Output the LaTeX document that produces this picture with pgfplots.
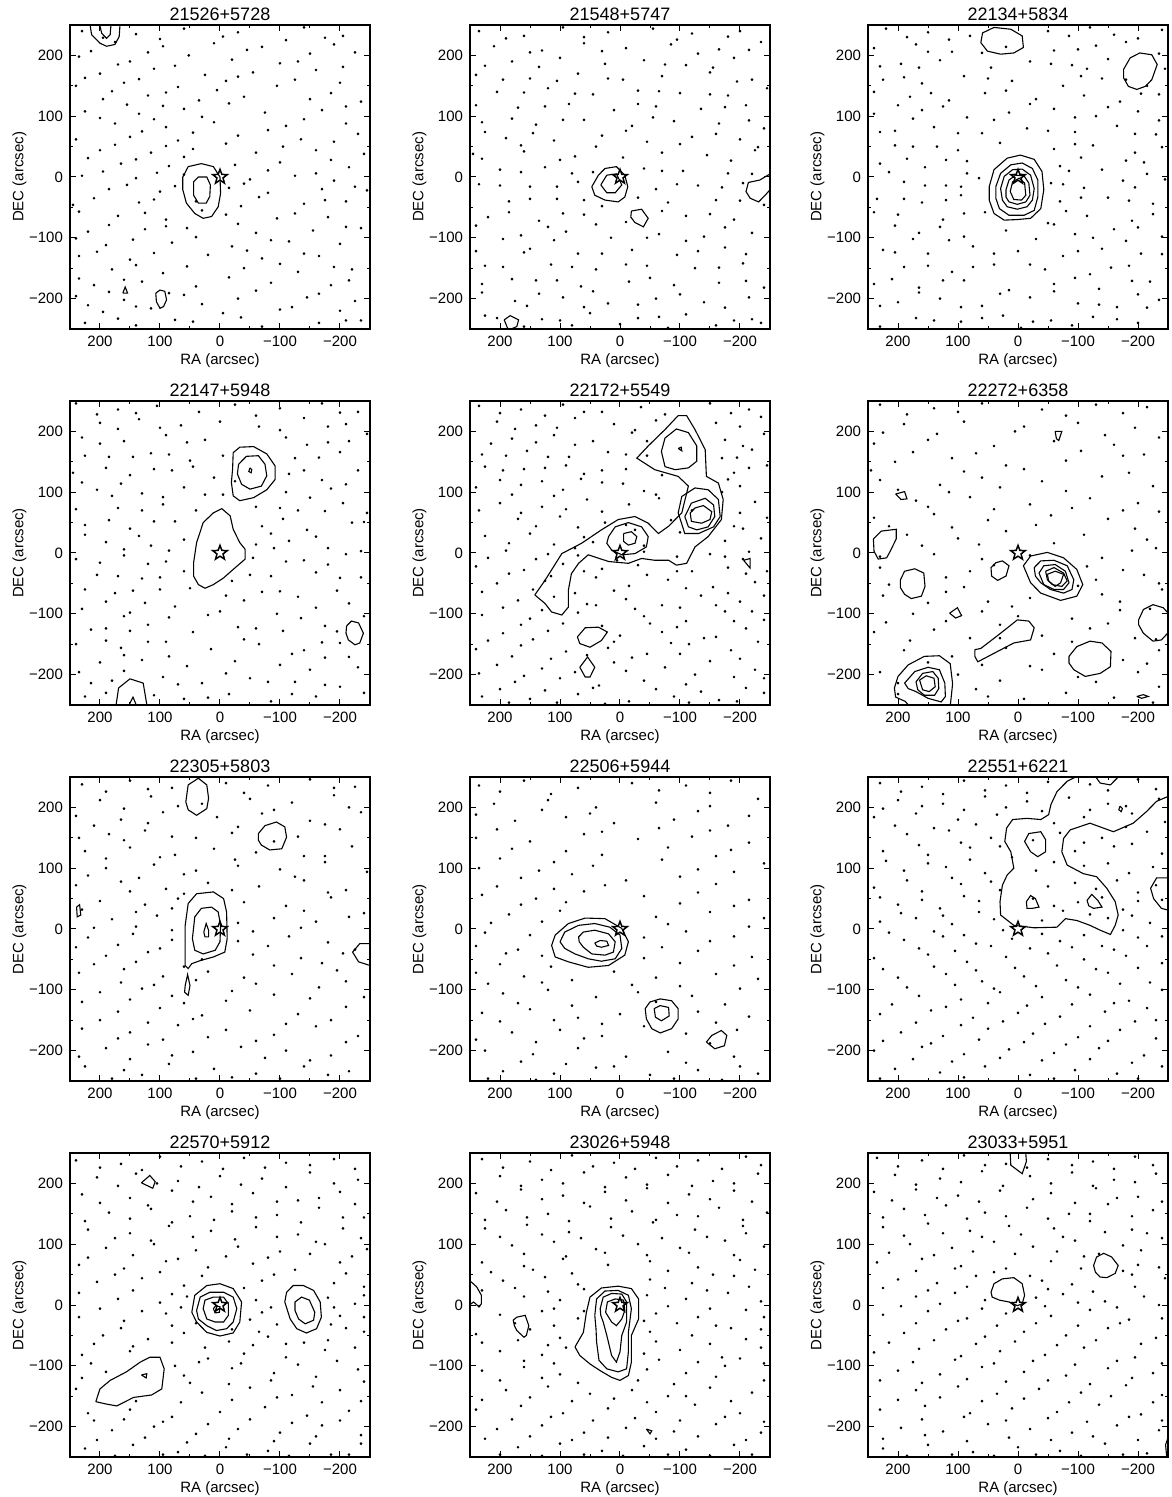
\documentclass[border=0pt]{standalone}
\usepackage{fontspec}
\setmainfont{Liberation Sans}
\usepackage{pgfplots}
\pgfplotsset{compat=1.18}

% open five-pointed star for the source position
\pgfdeclareplotmark{ostar}{%
  \pgfpathmoveto{\pgfpointpolar{90}{\pgfplotmarksize}}%
  \pgfpathlineto{\pgfpointpolar{126}{0.42\pgfplotmarksize}}%
  \pgfpathlineto{\pgfpointpolar{162}{\pgfplotmarksize}}%
  \pgfpathlineto{\pgfpointpolar{198}{0.42\pgfplotmarksize}}%
  \pgfpathlineto{\pgfpointpolar{234}{\pgfplotmarksize}}%
  \pgfpathlineto{\pgfpointpolar{270}{0.42\pgfplotmarksize}}%
  \pgfpathlineto{\pgfpointpolar{306}{\pgfplotmarksize}}%
  \pgfpathlineto{\pgfpointpolar{342}{0.42\pgfplotmarksize}}%
  \pgfpathlineto{\pgfpointpolar{18}{\pgfplotmarksize}}%
  \pgfpathlineto{\pgfpointpolar{54}{0.42\pgfplotmarksize}}%
  \pgfpathclose\pgfusepathqstroke}

\pgfplotsset{
  every axis title shift=0pt,
  field/.style={
    scale only axis, width=150pt, height=152pt, anchor=south west,
    xmin=-250, xmax=250, ymin=-250, ymax=250, x dir=reverse,
    xtick={-200,-100,0,100,200}, xticklabels={−200,−100,0,100,200},
    ytick={-200,-100,0,100,200}, yticklabels={−200,−100,0,100,200},
    minor tick num=1, tick align=inside,
    major tick length=3pt, minor tick length=1.5pt,
    tick style={line width=0.5pt, black},
    axis line style={line width=0.6pt},
    tick label style={font=\fontsize{7.5}{9}\selectfont},
    label style={font=\fontsize{7.5}{9}\selectfont},
    xlabel style={at={(axis description cs:0.5,-0.104)}, anchor=center},
    ylabel style={at={(axis description cs:-0.168,0.5)}, anchor=center},
    title style={at={(0.5,1.035)}, anchor=center, font=\fontsize{9}{10}\selectfont},
    xlabel={RA (arcsec)}, ylabel={DEC (arcsec)},
  },
  dots/.style={only marks, mark=*, mark size=0.45pt, black},
  cont/.style={black, line width=0.55pt, mark=none},
  src/.style={only marks, mark=ostar, mark size=3.8pt, line width=0.75pt, black},
}

\begin{document}
\begin{tikzpicture}
\useasboundingbox (0,0) rectangle (585.5pt,748.5pt);

% ---------------- row 1 ----------------
\begin{axis}[field, at={(35pt,584pt)}, title={21526+5728}]
\addplot[dots] coordinates {(230,240)(140,235)(60,244)(-30,238)(-140,246)(-205,232)
(175,222)(95,215)(10,220)(-70,214)(-110,225)(-190,218)
(235,198)(150,190)(52,200)(-20,193)(-130,190)(-225,205)
(200,170)(110,178)(25,168)(-55,172)(-160,176)
(240,150)(160,155)(70,148)(-10,158)(-95,150)(-200,155)
(195,128)(120,134)(35,126)(-40,132)(-150,128)(-235,124)
(225,108)(135,104)(60,112)(-75,106)(-170,110)
(175,88)(90,82)(10,90)(-110,84)(-210,88)
(240,62)(150,66)(70,60)(-30,68)(-135,62)(-190,58)
(200,44)(115,40)(45,46)(-60,40)(-160,44)(-240,38)
(165,22)(85,18)(-25,20)(-100,24)(-215,16)
(230,2)(140,-2)(60,4)(-50,-4)(-125,2)(-190,-6)
(185,-20)(100,-24)(-15,-18)(-80,-26)(-170,-20)(-245,-22)
(245,-46)(135,-42)(40,-40)(-35,-48)(-140,-44)(-210,-40)
(170,-64)(90,-70)(-10,-62)(-95,-68)(-180,-66)
(220,-90)(125,-86)(55,-84)(-60,-92)(-155,-88)(-235,-84)
(190,-112)(80,-108)(-20,-114)(-115,-106)(-200,-110)
(235,-130)(150,-136)(20,-128)(-70,-134)(-165,-130)
(180,-152)(95,-158)(-40,-150)(-130,-156)(-220,-152)
(210,-178)(130,-172)(40,-180)(-85,-174)(-185,-178)
(240,-196)(160,-202)(60,-194)(-30,-200)(-145,-198)(-225,-204)
(195,-222)(115,-216)(-5,-224)(-100,-218)(-200,-220)
(225,-240)(140,-244)(45,-238)(-70,-246)(-165,-240)(-235,-236)};
\addplot[dots] coordinates {(195,229)(100,227)(-5,231)(-175,229)
(215,207)(120,205)(-45,209)(-150,203)(170,185)(75,183)(-100,187)(-205,181)
(225,163)(135,161)(-30,165)(-125,160)(180,141)(90,139)(5,143)(-185,138)
(155,119)(95,117)(-15,121)(-210,116)(200,97)(110,95)(30,99)(-140,95)
(130,75)(45,73)(-80,77)(-230,71)(175,53)(90,51)(-10,55)(-105,50)
(220,31)(140,29)(60,33)(-185,28)(195,9)(105,7)(-80,11)(-160,6)
(155,-13)(75,-15)(-40,-11)(-225,-16)(210,-35)(110,-37)(-65,-33)(-175,-38)
(235,-57)(125,-59)(30,-55)(-125,-60)(185,-79)(90,-81)(-30,-77)(-210,-82)
(240,-101)(145,-103)(40,-99)(-85,-104)(205,-123)(110,-125)(-45,-121)(-140,-126)
(140,-145)(55,-147)(-100,-143)(-190,-148)(235,-167)(160,-169)(-15,-165)(-215,-170)
(185,-189)(85,-191)(-60,-187)(-165,-192)(220,-211)(140,-213)(30,-209)(-120,-214)
(170,-233)(75,-235)(-35,-231)(-210,-236)};
\addplot[cont] coordinates {(62,0)(53,17)(31,22)(11,17)(0,0)(-1,-27)(3,-49)(14,-65)(28,-68)(42,-60)(56,-43)(62,-21)(62,0)};
\addplot[cont] coordinates {(44,-8)(36,0)(22,0)(16,-13)(17,-32)(23,-43)(36,-43)(44,-30)(44,-8)};
\addplot[cont] coordinates {(218,260)(214,234)(200,220)(189,215)(175,218)(168,231)(166,260)};
\addplot[cont] coordinates {(203,260)(197,236)(189,228)(183,234)(181,260)};
\addplot[cont] coordinates {(162,-191)(158,-181)(154,-191)(162,-191)};
\addplot[cont] coordinates {(107,-191)(100,-186)(92,-188)(89,-202)(94,-213)(100,-216)(106,-205)(107,-191)};
\addplot[src] coordinates {(0,0)};
\end{axis}

\begin{axis}[field, at={(235pt,584pt)}, title={21548+5747}]
\addplot[dots] coordinates {(235,240)(160,232)(95,246)(20,238)(-55,244)(-120,236)(-200,240)
(210,215)(130,208)(60,220)(-10,212)(-85,218)(-165,210)(-235,222)
(180,190)(100,196)(25,186)(-40,192)(-110,184)(-190,196)
(240,168)(150,162)(70,170)(-5,160)(-70,166)(-150,172)(-220,160)
(205,140)(120,146)(45,136)(-30,142)(-100,138)(-180,134)(-245,146)
(170,114)(85,120)(10,110)(-60,116)(-135,112)(-210,118)
(230,90)(140,86)(60,94)(-20,84)(-90,92)(-165,88)(-240,80)
(190,64)(110,60)(30,68)(-45,58)(-120,66)(-200,62)
(245,38)(160,42)(75,34)(-70,40)(-145,36)(-225,44)
(200,12)(125,16)(45,8)(-40,14)(-105,10)(-180,6)
(235,-12)(150,-16)(70,-8)(-60,-20)(-130,-14)(-205,-10)
(185,-40)(105,-36)(30,-48)(-80,-42)(-160,-38)(-240,-46)
(220,-66)(135,-72)(60,-62)(-10,-74)(-110,-64)(-190,-70)
(165,-96)(90,-90)(15,-100)(-65,-94)(-140,-98)(-220,-92)
(240,-122)(150,-118)(70,-126)(-20,-120)(-95,-128)(-175,-116)
(195,-148)(115,-144)(40,-152)(-45,-146)(-125,-150)(-205,-142)
(230,-176)(140,-170)(65,-180)(-15,-172)(-90,-178)(-165,-174)(-240,-182)
(175,-204)(95,-198)(20,-208)(-60,-200)(-140,-206)(-215,-198)
(225,-228)(130,-234)(50,-224)(-30,-232)(-110,-226)(-190,-236)
(160,-246)(80,-244)(0,-242)(-80,-248)(-160,-244)(-235,-240)};
\addplot[dots] coordinates {(190,228)(60,230)(-95,226)(-180,231)
(150,205)(30,207)(-130,203)(-215,209)(225,183)(135,181)(-75,185)(-155,180)
(195,160)(105,158)(20,162)(-195,157)(160,139)(75,137)(-65,141)(-150,136)
(240,118)(125,116)(-30,120)(-175,115)(180,96)(95,94)(-55,98)(-215,93)
(225,74)(145,72)(-10,76)(-160,71)(165,52)(40,50)(-100,54)(-230,49)
(230,30)(100,28)(-5,32)(-185,27)(165,8)(80,6)(-70,10)(-220,5)
(200,-14)(105,-16)(-95,-12)(-170,-17)(150,-36)(60,-38)(-30,-34)(-200,-39)
(185,-58)(95,-60)(-70,-56)(-150,-61)(240,-80)(120,-82)(40,-78)(-175,-83)
(195,-102)(110,-104)(-45,-100)(-110,-105)(160,-124)(30,-126)(-130,-122)(-210,-127)
(225,-146)(80,-148)(-10,-144)(-165,-149)(180,-168)(105,-170)(-50,-166)(-210,-171)
(230,-190)(135,-192)(45,-188)(-100,-193)(155,-212)(60,-214)(-30,-210)(-175,-215)
(205,-232)(100,-236)(-65,-230)(-220,-234)};
\addplot[cont] coordinates {(47,-16)(36,3)(25,14)(6,17)(-8,3)(-13,-16)(-8,-33)(3,-41)(25,-38)(42,-30)(47,-16)};
\addplot[cont] coordinates {(32,-13)(22,3)(6,5)(-3,-13)(8,-26)(22,-26)(32,-13)};
\addplot[cont] coordinates {(-19,-56)(-36,-53)(-47,-68)(-39,-82)(-25,-75)(-18,-66)(-19,-56)};
\addplot[cont] coordinates {(-262,12)(-250,5)(-233,-5)(-214,-9)(-210,-24)(-217,-35)(-231,-41)(-242,-30)(-250,-21)(-262,-14)};
\addplot[cont] coordinates {(193,-235)(183,-228)(169,-235)(172,-246)(186,-252)(193,-235)};
\addplot[src] coordinates {(0,0)};
\end{axis}

\begin{axis}[field, at={(434pt,584pt)}, title={22134+5834}]
\addplot[dots] coordinates {(220,244)(150,238)(80,232)(-50,240)(-120,246)(-160,234)(-240,242)
(240,212)(170,218)(110,206)(20,214)(-60,208)(-130,216)(-180,222)
(195,186)(130,192)(45,180)(-20,190)(-90,184)(-150,194)(-245,178)
(225,160)(160,154)(90,166)(10,158)(-75,150)(-140,162)(-215,150)
(180,132)(115,126)(55,138)(-30,128)(-110,134)(-170,124)(-235,136)
(240,104)(160,110)(85,98)(15,106)(-60,112)(-130,100)(-200,108)
(205,76)(140,82)(60,72)(-15,80)(-95,74)(-165,84)(-230,70)
(175,50)(100,44)(30,56)(-60,46)(-125,52)(-195,40)
(230,22)(155,16)(85,26)(-70,18)(-140,12)(-210,24)(-245,-4)
(190,-8)(120,-14)(65,-2)(-55,-10)(-110,-18)(-175,-6)
(235,-36)(160,-42)(95,-30)(-70,-40)(-150,-34)(-225,-44)
(200,-62)(125,-70)(55,-58)(-50,-76)(-115,-64)(-190,-72)
(165,-92)(90,-98)(20,-88)(-30,-102)(-95,-94)(-160,-86)(-240,-98)
(225,-120)(150,-126)(75,-114)(0,-122)(-75,-130)(-140,-118)(-205,-126)
(190,-148)(110,-156)(40,-144)(-45,-152)(-120,-160)(-185,-146)
(240,-176)(165,-182)(90,-170)(15,-186)(-60,-176)(-135,-184)(-220,-172)
(200,-206)(130,-200)(60,-212)(-20,-198)(-100,-208)(-165,-214)(-235,-202)
(170,-232)(95,-238)(25,-228)(-55,-236)(-125,-230)(-200,-240)
(230,-246)(-5,-248)(-90,-244)};
\addplot[dots] coordinates {(185,230)(115,226)(-85,232)(-200,228)
(150,206)(60,204)(-100,210)(-235,203)(230,182)(165,180)(-55,186)(-115,178)
(190,164)(50,162)(-105,166)(-180,160)(240,140)(145,138)(20,142)(-205,137)
(200,118)(125,116)(-20,120)(-150,115)(175,96)(40,94)(-95,98)(-235,93)
(230,74)(100,72)(-50,76)(-195,71)(205,52)(135,50)(-95,54)(-240,49)
(185,30)(120,28)(-105,32)(-180,27)(215,8)(85,6)(-85,10)(-215,5)
(155,-14)(95,-16)(-75,-12)(-195,-17)(190,-36)(120,-38)(-105,-34)(-185,-39)
(240,-58)(90,-60)(-80,-56)(-225,-61)(205,-80)(130,-82)(-60,-78)(-200,-83)
(175,-102)(115,-104)(-125,-100)(-180,-105)(205,-124)(40,-126)(-100,-122)(-240,-127)
(150,-146)(75,-148)(-20,-144)(-155,-149)(210,-168)(125,-170)(-95,-166)(-190,-171)
(165,-190)(30,-192)(-60,-188)(-200,-193)(230,-212)(95,-214)(-135,-210)(-215,-215)
(140,-236)(60,-232)(-25,-238)(-165,-234)};
\addplot[cont] coordinates {(48,-16)(40,12)(18,31)(-4,36)(-27,29)(-40,9)(-43,-21)(-38,-52)(-21,-68)(1,-70)(23,-71)(40,-60)(48,-38)(48,-16)};
\addplot[cont] coordinates {(37,-16)(29,6)(12,20)(-7,23)(-24,14)(-33,-5)(-33,-33)(-27,-55)(-10,-63)(15,-63)(31,-52)(37,-35)(37,-16)};
\addplot[cont] coordinates {(29,-19)(23,1)(9,12)(-7,13)(-21,3)(-27,-19)(-24,-38)(-15,-49)(1,-53)(18,-49)(26,-38)(29,-19)};
\addplot[cont] coordinates {(20,-21)(15,-5)(4,3)(-10,2)(-18,-10)(-20,-30)(-13,-41)(1,-45)(15,-41)(20,-33)(20,-21)};
\addplot[cont] coordinates {(13,-24)(9,-8)(-2,-2)(-11,-10)(-13,-30)(-6,-38)(7,-37)(13,-24)};
\addplot[cont] coordinates {(62,221)(59,237)(40,246)(12,243)(-7,232)(-9,213)(7,204)(29,202)(51,207)(62,221)};
\addplot[cont] coordinates {(-176,177)(-187,196)(-203,204)(-223,201)(-232,185)(-223,160)(-212,149)(-198,144)(-184,149)(-176,163)(-176,177)};
\addplot[src] coordinates {(0,0)};
\end{axis}

% ---------------- row 2 ----------------
\begin{axis}[field, at={(35pt,396pt)}, title={22147+5948}]
\addplot[dots] coordinates {(240,246)(170,236)(105,242)(35,232)(-25,244)(-100,238)(-170,246)(-230,232)
(200,214)(135,220)(65,210)(0,216)(-65,208)(-140,222)(-210,212)
(230,190)(160,184)(90,194)(25,186)(-110,190)(-180,182)(-245,196)
(185,158)(115,164)(50,152)(-5,160)(-125,156)(-200,166)
(245,132)(150,128)(80,136)(10,124)(-115,130)(-170,120)(-230,136)
(205,104)(130,98)(60,108)(-5,96)(-110,100)(-185,106)
(170,74)(95,80)(40,70)(-60,76)(-130,70)(-205,82)(-245,66)
(225,46)(150,40)(75,52)(-70,44)(-145,38)(-220,50)
(190,18)(115,12)(60,22)(-60,14)(-115,20)(-180,8)
(240,-10)(160,-4)(90,-14)(-55,-8)(-140,-12)(-210,-2)
(205,-36)(130,-42)(60,-30)(-20,-46)(-85,-38)(-160,-32)(-235,-40)
(175,-66)(100,-60)(-10,-70)(-70,-64)(-130,-72)(-195,-62)
(230,-92)(150,-98)(75,-88)(0,-96)(-95,-100)(-160,-90)(-240,-104)
(190,-124)(120,-118)(45,-130)(-30,-122)(-105,-128)(-175,-120)
(240,-150)(165,-156)(90,-146)(15,-158)(-65,-150)(-140,-160)(-200,-148)
(200,-180)(130,-176)(55,-186)(-25,-178)(-100,-184)(-175,-172)(-230,-188)
(180,-210)(95,-204)(30,-214)(-50,-206)(-125,-212)(-200,-220)
(225,-236)(60,-240)(-15,-232)(-85,-244)(-160,-236)(-240,-230)};
\addplot[dots] coordinates {(205,228)(140,230)(-60,226)(-200,231)
(170,204)(100,206)(-100,202)(-180,208)(200,180)(55,182)(-145,178)(-215,184)
(225,160)(145,158)(85,162)(-165,157)(190,140)(110,138)(45,142)(-140,136)
(230,116)(165,114)(-25,118)(-210,113)(180,94)(95,92)(25,96)(-150,91)
(240,72)(130,70)(-100,74)(-175,69)(185,54)(110,52)(-105,56)(-240,51)
(225,30)(135,28)(-85,32)(-160,27)(160,6)(85,4)(-90,8)(-235,3)
(200,-16)(120,-18)(-110,-14)(-180,-19)(170,-38)(100,-40)(-50,-36)(-200,-41)
(225,-60)(145,-62)(50,-58)(-100,-63)(190,-80)(125,-82)(-40,-78)(-215,-83)
(160,-104)(85,-106)(20,-102)(-135,-107)(215,-126)(150,-128)(-60,-124)(-195,-129)
(190,-144)(120,-146)(-40,-142)(-170,-147)(160,-168)(85,-170)(-120,-166)(-215,-171)
(235,-196)(160,-194)(-10,-198)(-150,-192)(215,-214)(70,-216)(-80,-212)(-175,-217)
(190,-230)(110,-234)(20,-238)(-120,-232)};
\addplot[cont] coordinates {(-22,165)(-33,174)(-56,175)(-78,163)(-92,143)(-92,121)(-78,104)(-56,91)(-33,86)(-22,94)(-19,116)(-21,138)(-22,165)};
\addplot[cont] coordinates {(-31,146)(-44,159)(-64,160)(-75,146)(-78,127)(-69,110)(-50,105)(-36,113)(-29,130)(-31,146)};
\addplot[cont] coordinates {(-50,140)(-53,137)(-52,132)(-48,134)(-50,140)};
\addplot[cont] coordinates {(44,-16)(39,17)(28,50)(11,66)(-3,73)(-17,61)(-22,39)(-33,17)(-42,6)(-42,-10)(-22,-27)(-6,-41)(11,-52)(25,-58)(36,-52)(44,-38)(44,-16)};
\addplot[cont] coordinates {(-211,-120)(-219,-112)(-231,-115)(-239,-132)(-233,-148)(-225,-151)(-214,-143)(-210,-132)(-211,-120)};
\addplot[cont] coordinates {(173,-262)(173,-249)(169,-222)(150,-207)(128,-214)(122,-249)(122,-262)};
\addplot[cont] coordinates {(153,-262)(151,-249)(145,-237)(140,-249)(139,-262)};
\addplot[src] coordinates {(0,0)};
\end{axis}

\begin{axis}[field, at={(235pt,396pt)}, title={22172+5549}]
\addplot[dots] coordinates {(235,242)(165,236)(95,244)(30,232)(-35,240)(-150,246)(-215,236)
(205,216)(140,210)(75,222)(10,212)(-60,218)(-160,214)(-235,224)
(180,188)(110,194)(45,184)(-20,198)(-175,186)(-240,196)
(230,162)(155,168)(85,158)(20,166)(-45,160)(-170,156)(-220,170)
(195,136)(125,140)(60,130)(-10,138)(-70,128)(-190,132)(-245,144)
(240,108)(165,112)(95,104)(30,116)(-40,102)(-200,110)
(200,82)(130,76)(55,88)(-15,80)(-65,90)(-225,84)
(170,56)(100,60)(25,50)(-85,54)(-120,70)(-190,44)(-245,58)
(225,28)(150,32)(60,26)(-25,38)(-100,34)(-175,20)(-235,24)
(190,4)(120,-2)(75,8)(-40,2)(-95,-6)(-150,-2)(-205,-10)
(240,-22)(160,-28)(95,-18)(30,-26)(-30,-20)(-120,-30)(-180,-24)(-245,-30)
(205,-50)(125,-46)(40,-40)(-15,-54)(-80,-44)(-155,-56)(-225,-48)
(170,-78)(110,-72)(55,-84)(-10,-76)(-70,-86)(-135,-70)(-200,-80)
(230,-102)(150,-108)(70,-98)(-40,-104)(-110,-112)(-175,-96)(-240,-110)
(195,-132)(120,-128)(0,-136)(-70,-130)(-140,-140)(-210,-124)
(240,-158)(165,-152)(90,-162)(20,-156)(-45,-166)(-115,-150)(-185,-160)
(205,-184)(130,-190)(10,-180)(-75,-188)(-150,-178)(-225,-192)
(175,-212)(100,-206)(35,-218)(-40,-210)(-110,-216)(-190,-204)
(230,-236)(150,-240)(70,-232)(-15,-244)(-90,-236)(-165,-242)(-240,-230)};
\addplot[dots] coordinates {(200,230)(125,226)(60,232)(-75,228)(-185,230)
(175,204)(105,206)(-25,202)(-200,208)(215,180)(140,182)(75,178)(-45,184)(-205,176)
(190,160)(120,158)(-10,162)(-195,157)(225,142)(160,138)(90,144)(30,136)(-215,140)
(200,120)(130,118)(65,122)(-5,114)(-180,121)(180,96)(110,94)(-60,96)(-170,100)
(235,70)(165,66)(90,72)(30,68)(-200,66)(140,44)(70,42)(-10,46)(-205,40)
(185,16)(110,14)(45,18)(-40,12)(-215,2)(220,-8)(140,-10)(70,-4)(5,-12)(-175,-6)
(185,-34)(115,-38)(60,-30)(-45,-36)(-95,-30)(-210,-34)
(230,-64)(145,-60)(75,-66)(10,-62)(-110,-58)(-180,-66)(-240,-70)
(195,-90)(130,-94)(40,-86)(-25,-92)(-100,-90)(-160,-86)(-220,-96)
(165,-118)(95,-116)(30,-120)(-50,-116)(-95,-122)(-190,-112)
(220,-144)(145,-142)(10,-146)(-85,-148)(-160,-138)(-230,-146)
(180,-170)(115,-174)(55,-168)(-20,-172)(-100,-166)(-200,-174)
(235,-198)(160,-202)(75,-196)(-10,-194)(-125,-200)(-240,-206)
(200,-224)(125,-226)(45,-222)(-60,-224)(-135,-228)(-210,-222)
(185,-246)(105,-246)(25,-248)(-115,-246)(-195,-244)};
\addplot[cont] coordinates {(142,-69)(125,-45)(97,-1)(64,16)(31,38)(3,55)(-25,60)(-47,49)(-64,32)(-81,44)(-103,66)(-114,110)(-97,126)(-58,137)(-28,156)(-47,176)(-75,203)(-97,226)(-111,226)(-125,203)(-142,170)(-144,126)(-164,115)(-172,88)(-169,55)(-147,27)(-125,10)(-111,-17)(-94,-20)(-81,-12)(-58,-12)(-36,-9)(-14,-17)(19,-14)(53,-3)(69,-17)(81,-34)(86,-61)(86,-89)(97,-102)(114,-97)(125,-83)(142,-69)};
\addplot[cont] coordinates {(19,27)(8,43)(-14,50)(-36,43)(-47,27)(-44,10)(-25,-1)(-3,-3)(14,5)(22,16)(19,27)};
\addplot[cont] coordinates {(-6,32)(-19,35)(-28,27)(-25,16)(-14,13)(-6,19)(-6,32)};
\addplot[cont] coordinates {(-69,167)(-75,189)(-94,204)(-114,198)(-128,176)(-128,151)(-114,140)(-92,137)(-75,142)(-69,167)};
\addplot[cont] coordinates {(-97,172)(-103,168)(-102,174)(-97,172)};
\addplot[cont] coordinates {(-97,66)(-103,93)(-125,107)(-147,104)(-164,88)(-167,60)(-156,43)(-131,32)(-108,32)(-97,66)};
\addplot[cont] coordinates {(-108,60)(-119,82)(-142,90)(-156,79)(-158,60)(-147,43)(-128,38)(-114,43)(-108,60)};
\addplot[cont] coordinates {(-117,66)(-125,74)(-139,78)(-153,68)(-150,55)(-136,49)(-119,52)(-117,66)};
\addplot[cont] coordinates {(-206,-12)(-217,-9)(-217,-25)(-206,-12)};
\addplot[cont] coordinates {(71,-138)(58,-123)(36,-122)(21,-130)(31,-144)(50,-155)(67,-149)(71,-138)};
\addplot[cont] coordinates {(67,-188)(54,-171)(42,-188)(50,-204)(58,-204)(67,-188)};
\addplot[src] coordinates {(0,0)};
\end{axis}

\begin{axis}[field, at={(434pt,396pt)}, title={22272+6358}]
\addplot[dots] coordinates {(230,244)(140,238)(60,246)(-40,236)(-130,244)(-215,240)
(190,212)(90,216)(-10,208)(-100,214)(-195,206)
(240,180)(150,186)(40,176)(-60,184)(-160,178)(-235,190)
(205,150)(110,156)(20,144)(-80,152)(-175,160)
(230,120)(130,112)(60,124)(-40,118)(-140,126)(-225,110)
(170,86)(80,92)(-20,80)(-120,90)(-200,82)
(240,58)(140,64)(50,54)(-55,62)(-150,56)(-235,68)
(185,30)(100,24)(20,36)(-110,30)(-215,22)
(230,-6)(140,-2)(60,-10)(-20,-4)(-140,-8)(-190,4)
(120,-40)(80,-30)(-130,-44)(-210,-36)
(225,-70)(120,-64)(50,-80)(-20,-74)(-140,-68)(-240,-60)
(175,-100)(60,-96)(0,-104)(-90,-108)(-170,-94)
(240,-130)(140,-126)(80,-140)(-40,-136)(-120,-124)(-195,-140)
(190,-160)(110,-170)(20,-156)(-60,-166)(-175,-176)(-235,-160)
(230,-196)(100,-200)(30,-210)(-40,-192)(-100,-204)(-200,-196)
(200,-232)(70,-224)(-10,-240)(-80,-230)(-160,-238)(-225,-246)};
\addplot[dots] coordinates {(185,228)(100,232)(-80,226)(-175,230)
(225,198)(135,196)(5,200)(-145,194)(175,166)(70,164)(-105,168)(-210,162)
(245,136)(90,134)(-10,138)(-185,132)(200,104)(115,100)(30,108)(-80,102)
(150,76)(40,72)(-90,74)(-175,70)(215,44)(110,42)(-30,46)(-195,40)
(160,12)(65,14)(-60,16)(-230,8)(230,-24)(40,-20)(-115,-22)(-175,-28)
(215,-52)(90,-56)(-100,-54)(-235,-50)(150,-82)(10,-88)(-170,-80)(-220,-92)
(220,-114)(120,-112)(30,-118)(-150,-116)(180,-144)(30,-140)(-90,-146)(-230,-142)
(150,-180)(60,-184)(-20,-186)(-215,-182)(200,-214)(50,-236)(-130,-212)(-235,-220)};
\addplot[cont] coordinates {(-9,-21)(-21,-5)(-49,1)(-76,-8)(-98,-27)(-108,-52)(-98,-71)(-71,-78)(-38,-66)(-21,-49)(-9,-21)};
\addplot[cont] coordinates {(-27,-24)(-38,-13)(-60,-12)(-82,-21)(-93,-44)(-90,-60)(-76,-66)(-54,-60)(-38,-49)(-29,-38)(-27,-24)};
\addplot[cont] coordinates {(-35,-33)(-43,-21)(-62,-19)(-79,-30)(-85,-49)(-76,-60)(-60,-60)(-43,-52)(-35,-33)};
\addplot[cont] coordinates {(-46,-30)(-60,-24)(-76,-33)(-82,-46)(-73,-55)(-57,-52)(-49,-44)(-46,-30)};
\addplot[cont] coordinates {(-49,-35)(-62,-30)(-76,-35)(-71,-49)(-62,-55)(-51,-46)(-49,-35)};
\addplot[cont] coordinates {(241,23)(228,36)(203,39)(203,23)(214,1)(219,-8)(233,-10)(240,3)(241,23)};
\addplot[cont] coordinates {(204,97)(189,101)(185,89)(195,88)(204,97)};
\addplot[cont] coordinates {(196,-44)(189,-30)(172,-26)(157,-33)(155,-55)(161,-71)(178,-75)(189,-68)(196,-57)(196,-44)};
\addplot[cont] coordinates {(45,-24)(37,-16)(26,-13)(15,-21)(20,-38)(34,-45)(44,-38)(45,-24)};
\addplot[cont] coordinates {(114,-99)(101,-90)(94,-103)(104,-107)(114,-99)};
\addplot[cont] coordinates {(72,-159)(62,-157)(29,-132)(1,-110)(-18,-112)(-27,-123)(-21,-143)(7,-148)(40,-165)(67,-179)(72,-170)(72,-159)};
\addplot[cont] coordinates {(-85,-170)(-98,-154)(-120,-145)(-140,-148)(-155,-162)(-154,-187)(-137,-198)(-112,-203)(-93,-192)(-85,-181)(-85,-170)};
\addplot[cont] coordinates {(-201,-110)(-209,-93)(-225,-85)(-242,-90)(-255,-104)(-255,-126)(-239,-143)(-225,-145)(-209,-132)(-201,-118)(-201,-110)};
\addplot[cont] coordinates {(114,-262)(109,-215)(113,-182)(131,-169)(156,-170)(183,-184)(200,-203)(206,-222)(204,-237)(188,-244)(172,-262)};
\addplot[cont] coordinates {(189,-214)(172,-195)(150,-188)(131,-192)(122,-214)(121,-236)(128,-245)(150,-239)(170,-228)(183,-223)(189,-214)};
\addplot[cont] coordinates {(170,-212)(159,-198)(142,-195)(133,-206)(132,-223)(139,-234)(156,-234)(167,-225)(170,-212)};
\addplot[cont] coordinates {(164,-209)(153,-202)(140,-206)(138,-220)(148,-228)(159,-225)(164,-209)};
\addplot[cont] coordinates {(-62,200)(-73,200)(-68,185)(-64,188)(-62,200)};
\addplot[cont] coordinates {(-198,-236)(-209,-233)(-217,-236)(-206,-239)(-198,-236)};
\addplot[src] coordinates {(0,0)};
\end{axis}

% ---------------- row 3 ----------------
\begin{axis}[field, at={(35pt,208pt)}, title={22305+5803}]
\addplot[dots] coordinates {(230,238)(150,244)(80,232)(-10,240)(-80,236)(-150,246)(-225,234)
(200,212)(115,218)(30,206)(-50,214)(-120,208)(-190,220)
(240,186)(165,180)(95,192)(5,184)(-70,190)(-150,178)(-235,192)
(185,156)(125,162)(40,150)(-20,158)(-130,152)(-200,164)
(225,128)(150,134)(75,122)(10,132)(-60,126)(-140,120)(-220,136)
(190,100)(110,106)(40,96)(-30,104)(-100,98)(-175,110)(-245,94)
(240,72)(165,78)(90,66)(20,76)(-65,70)(-140,80)(-210,64)
(200,46)(125,40)(70,50)(-40,44)(-110,38)(-185,52)
(180,16)(105,22)(-30,10)(-90,18)(-160,12)(-215,20)
(220,-14)(145,-8)(80,-18)(-30,-20)(-115,-12)(-180,-22)
(190,-44)(120,-38)(30,-50)(-55,-42)(-135,-48)(-205,-40)
(235,-72)(160,-66)(95,-78)(20,-70)(-40,-80)(-120,-74)(-195,-68)
(200,-104)(130,-98)(80,-110)(-20,-102)(-90,-108)(-165,-96)(-240,-112)
(170,-136)(100,-130)(30,-142)(-50,-134)(-130,-140)(-210,-128)
(230,-164)(150,-170)(70,-158)(-10,-166)(-90,-174)(-160,-160)(-230,-176)
(190,-196)(120,-190)(45,-202)(-35,-194)(-110,-200)(-185,-208)
(225,-226)(160,-232)(85,-222)(10,-230)(-60,-238)(-140,-226)(-215,-234)
(180,-246)(40,-246)(-100,-246)};
\addplot[dots] coordinates {(190,226)(120,230)(-40,224)(-190,232)
(160,198)(70,202)(-90,196)(-215,200)(210,170)(120,174)(-30,168)(-175,172)
(235,150)(160,146)(80,152)(-90,144)(190,116)(100,118)(-25,114)(-175,120)
(220,88)(135,84)(60,90)(-125,86)(150,62)(60,58)(-20,64)(-180,60)
(230,32)(140,28)(80,34)(-140,30)(-240,26)(210,2)(140,4)(80,-2)(-55,-4)(-135,2)
(240,-30)(170,-26)(100,-32)(-80,-28)(-225,-34)(210,-58)(140,-54)(60,-62)(-90,-60)(-170,-56)
(165,-88)(110,-92)(40,-84)(-60,-90)(-210,-86)(230,-120)(150,-116)(60,-122)(-10,-118)(-150,-114)
(200,-150)(120,-154)(45,-148)(-110,-156)(-185,-150)(170,-180)(95,-182)(20,-178)(-60,-184)(-210,-186)
(235,-210)(150,-214)(80,-208)(-75,-212)(-150,-216)(130,-240)(-20,-244)(-180,-240)};
\addplot[cont] coordinates {(58,-60)(58,6)(53,42)(39,58)(11,61)(-6,50)(-11,28)(-12,-16)(-8,-38)(11,-46)(33,-52)(47,-57)(53,-65)(58,-60)};
\addplot[cont] coordinates {(46,-16)(42,20)(31,34)(14,36)(3,28)(-1,6)(0,-21)(8,-35)(28,-41)(42,-35)(46,-16)};
\addplot[cont] coordinates {(27,-5)(23,9)(19,-2)(19,-13)(25,-13)(27,-5)};
\addplot[cont] coordinates {(58,-93)(54,-75)(50,-93)(53,-109)(59,-104)(58,-93)};
\addplot[cont] coordinates {(57,209)(53,237)(36,248)(22,237)(19,215)(22,198)(39,187)(53,196)(57,209)};
\addplot[cont] coordinates {(-64,157)(-75,170)(-94,176)(-108,168)(-111,151)(-103,132)(-83,130)(-69,138)(-64,146)(-64,157)};
\addplot[cont] coordinates {(239,36)(234,40)(232,23)(238,20)(239,36)};
\addplot[cont] coordinates {(-262,-24)(-250,-24)(-233,-24)(-221,-38)(-231,-54)(-250,-60)(-262,-61)};
\addplot[src] coordinates {(0,0)};
\end{axis}

\begin{axis}[field, at={(235pt,208pt)}, title={22506+5944}]
\addplot[dots] coordinates {(235,236)(160,244)(70,232)(-20,240)(-110,236)(-185,244)
(210,206)(120,212)(40,200)(-60,208)(-150,202)(-230,214)
(175,178)(90,184)(10,174)(-90,180)(-180,170)
(240,150)(150,144)(60,156)(-30,148)(-120,152)(-215,142)
(200,116)(110,110)(30,122)(-70,114)(-160,120)(-240,108)
(165,84)(80,90)(-10,80)(-100,86)(-190,94)
(230,56)(140,50)(60,62)(-40,54)(-130,60)(-215,48)
(185,24)(100,30)(-60,20)(-150,28)(-240,18)
(225,-6)(150,-10)(-40,-14)(-110,-4)(-190,-12)
(190,-40)(130,-44)(-40,-48)(-130,-36)(-220,-46)
(240,-72)(160,-78)(80,-84)(10,-70)(-60,-80)(-160,-74)(-230,-82)
(195,-106)(120,-100)(40,-112)(-30,-104)(-120,-110)(-200,-98)
(230,-138)(150,-132)(70,-146)(0,-140)(-130,-136)(-215,-144)
(180,-170)(100,-166)(30,-176)(-40,-160)(-110,-172)(-195,-166)
(225,-200)(145,-206)(70,-196)(-10,-210)(-80,-202)(-190,-210)
(195,-234)(110,-238)(40,-228)(-50,-240)(-130,-232)(-230,-238)};
\addplot[dots] coordinates {(200,226)(115,222)(-65,228)(-150,224)
(240,188)(130,196)(50,190)(-130,194)(-215,186)(205,164)(30,160)(-65,166)(-150,162)
(180,132)(90,128)(-80,134)(-185,130)(235,100)(135,96)(45,104)(-130,98)
(205,70)(110,66)(25,72)(-160,74)(165,40)(90,44)(-100,42)(-190,38)
(215,10)(130,12)(-80,8)(-215,4)(240,-28)(170,-34)(-70,-30)(-150,-20)
(200,-58)(115,-62)(-100,-56)(-190,-60)(220,-90)(130,-88)(-20,-92)(-100,-94)
(170,-122)(80,-126)(-60,-120)(-175,-124)(200,-152)(110,-150)(30,-156)(-160,-154)
(240,-182)(140,-186)(60,-180)(-150,-188)(165,-218)(90,-222)(10,-226)(-110,-220)(-200,-226)
(220,-246)(140,-248)(-90,-246)(-170,-248)};
\addplot[cont] coordinates {(114,-27)(108,-10)(86,9)(58,18)(25,17)(-3,1)(-14,-21)(-8,-43)(19,-60)(53,-63)(86,-54)(108,-46)(114,-27)};
\addplot[cont] coordinates {(100,-21)(92,-5)(69,6)(42,9)(17,3)(0,-10)(-3,-32)(8,-49)(31,-53)(53,-49)(75,-41)(92,-32)(100,-21)};
\addplot[cont] coordinates {(69,-13)(61,-5)(42,-2)(19,-8)(8,-21)(11,-38)(25,-43)(47,-41)(61,-30)(68,-21)(69,-13)};
\addplot[cont] coordinates {(42,-23)(33,-19)(22,-20)(19,-27)(31,-30)(39,-28)(42,-23)};
\addplot[cont] coordinates {(-42,-131)(-50,-120)(-67,-115)(-86,-118)(-97,-131)(-97,-148)(-86,-164)(-67,-171)(-53,-164)(-44,-148)(-42,-131)};
\addplot[cont] coordinates {(-57,-131)(-67,-126)(-81,-129)(-82,-143)(-69,-151)(-59,-145)(-57,-131)};
\addplot[cont] coordinates {(-144,-186)(-153,-175)(-169,-167)(-178,-175)(-174,-192)(-158,-197)(-144,-186)};
\addplot[src] coordinates {(0,0)};
\end{axis}

\begin{axis}[field, at={(434pt,208pt)}, title={22551+6221}]
\addplot[dots] coordinates {(230,240)(160,234)(90,244)(20,236)(-50,242)(-120,238)(-200,246)
(200,212)(125,206)(55,218)(-15,210)(-85,216)(-150,206)(-235,214)
(240,184)(170,190)(100,180)(35,188)(-40,194)(-110,184)(-190,190)
(185,156)(115,162)(45,150)(-25,146)(-70,158)(-140,150)(-215,160)
(225,128)(150,122)(80,134)(10,118)(-95,128)(-160,136)(-240,124)
(190,96)(120,102)(55,92)(-30,96)(-110,104)(-185,92)
(240,68)(160,62)(95,74)(30,64)(-50,70)(-130,66)(-200,60)
(200,40)(130,34)(65,46)(-60,38)(-100,44)(-175,32)(-240,48)
(230,12)(170,18)(110,8)(40,16)(-40,14)(-150,18)(-220,10)
(190,-18)(125,-12)(70,-24)(10,-16)(-70,-20)(-140,-28)(-200,-14)
(240,-48)(150,-42)(85,-54)(20,-46)(-50,-40)(-110,-50)(-180,-44)(-240,-56)
(200,-80)(120,-74)(60,-86)(-10,-78)(-80,-84)(-150,-72)(-220,-88)
(165,-110)(95,-116)(30,-104)(-40,-112)(-120,-108)(-185,-118)
(230,-140)(145,-134)(75,-146)(0,-138)(-70,-144)(-145,-136)(-230,-150)
(195,-170)(125,-176)(50,-164)(-25,-172)(-100,-178)(-170,-166)
(240,-200)(160,-194)(90,-206)(15,-198)(-60,-204)(-135,-196)(-210,-208)
(205,-230)(130,-236)(55,-226)(-20,-240)(-95,-232)(-165,-238)(-240,-226)};
\addplot[dots] coordinates {(195,226)(125,222)(55,228)(-15,224)(-150,228)(-230,230)
(225,198)(160,202)(90,196)(20,200)(-120,196)(-180,202)(205,170)(140,166)(70,172)(-60,174)(-180,168)(-245,176)
(165,138)(95,142)(30,136)(-110,142)(-190,140)(220,112)(150,108)(80,114)(-60,110)(-150,108)(-225,102)
(185,80)(110,84)(45,78)(-95,76)(-165,80)(-230,72)(230,52)(160,48)(90,54)(-25,50)(-140,52)(-200,46)
(195,26)(125,22)(65,28)(-75,30)(-120,24)(-190,22)
(215,-6)(140,-4)(90,-10)(25,-2)(-40,-8)(-110,-10)(-175,-2)(-240,-12)
(165,-32)(105,-36)(45,-28)(-20,-32)(-90,-30)(-160,-34)(-215,-28)
(225,-66)(140,-62)(70,-68)(5,-64)(-65,-60)(-130,-66)(-200,-64)
(185,-96)(105,-92)(40,-98)(-30,-94)(-100,-96)(-170,-90)(-240,-100)
(210,-124)(120,-128)(50,-122)(-15,-126)(-90,-124)(-160,-122)(-215,-130)
(170,-154)(95,-158)(25,-152)(-45,-156)(-120,-160)(-195,-152)
(225,-184)(145,-188)(65,-182)(-10,-186)(-80,-190)(-150,-184)(-230,-180)
(175,-214)(110,-218)(30,-212)(-40,-216)(-120,-214)(-190,-220)
(230,-246)(90,-244)(-60,-246)(-200,-246)};
\addplot[cont] coordinates {(-102,262)(-96,250)(-82,243)(-65,226)(-55,205)(-51,188)(-38,180)(-15,182)(9,180)(19,166)(22,144)(12,127)(7,100)(18,89)(26,72)(30,45)(29,23)(7,6)(-27,2)(-65,3)(-79,17)(-98,14)(-120,6)(-137,-2)(-154,-9)(-162,6)(-167,23)(-162,45)(-148,67)(-131,86)(-109,91)(-82,105)(-73,127)(-76,149)(-87,163)(-120,174)(-159,160)(-192,174)(-214,193)(-231,210)(-250,218)(-262,223)};
\addplot[cont] coordinates {(-129,262)(-129,251)(-137,240)(-154,237)(-162,245)(-168,251)(-170,262)};
\addplot[cont] coordinates {(-170,202)(-174,198)(-172,193)(-168,196)(-170,202)};
\addplot[cont] coordinates {(-11,144)(-18,157)(-38,160)(-46,147)(-46,127)(-33,119)(-21,127)(-11,144)};
\addplot[cont] coordinates {(-14,45)(-21,55)(-29,50)(-35,36)(-24,34)(-15,34)(-14,45)};
\addplot[cont] coordinates {(-115,47)(-123,57)(-133,47)(-140,36)(-126,34)(-118,38)(-115,47)};
\addplot[cont] coordinates {(-262,84)(-250,84)(-231,84)(-221,67)(-226,50)(-239,34)(-250,31)(-262,30)};
\addplot[src] coordinates {(0,0)};
\end{axis}

% ---------------- row 4 ----------------
\begin{axis}[field, at={(35pt,20pt)}, title={22570+5912}]
\addplot[dots] coordinates {(240,238)(165,232)(100,244)(30,236)(-40,242)(-110,234)(-190,240)
(205,210)(140,216)(70,204)(0,212)(-70,208)(-150,218)(-230,206)
(230,182)(150,176)(80,188)(15,178)(-55,184)(-130,172)(-200,186)
(185,152)(115,158)(50,146)(-20,154)(-95,148)(-165,160)(-240,144)
(220,124)(150,118)(85,130)(15,122)(-60,128)(-130,116)(-205,126)
(190,94)(110,100)(40,90)(-30,96)(-100,88)(-175,100)(-245,92)
(235,66)(160,60)(90,72)(20,62)(-55,68)(-125,58)(-200,70)
(205,38)(130,44)(60,32)(-70,40)(-190,36)(-240,30)
(170,10)(100,4)(55,14)(-60,8)(-85,-4)(-180,12)(-225,2)
(235,-20)(160,-26)(90,-14)(40,-30)(-50,-24)(-95,-32)(-200,-18)
(195,-50)(120,-56)(60,-46)(-15,-60)(-80,-52)(-180,-58)(-240,-44)
(230,-82)(150,-76)(20,-88)(-40,-80)(-110,-86)(-175,-74)
(190,-110)(60,-116)(-20,-104)(-90,-112)(-160,-118)(-230,-106)
(240,-138)(30,-144)(-50,-136)(-120,-148)(-200,-140)
(220,-178)(150,-172)(80,-184)(0,-176)(-75,-168)(-145,-182)(-215,-174)
(180,-206)(110,-200)(40,-212)(-30,-204)(-100,-210)(-170,-198)(-235,-214)
(225,-236)(145,-230)(70,-242)(-10,-234)(-80,-240)(-150,-228)(-215,-246)};
\addplot[dots] coordinates {(200,226)(130,222)(65,228)(-5,224)(-75,226)(-150,230)(-225,224)
(170,196)(105,200)(35,194)(-35,198)(-110,194)(-190,200)
(200,168)(120,164)(45,170)(-20,166)(-95,170)(-165,176)(-225,166)
(225,138)(150,142)(80,136)(10,140)(-60,144)(-135,136)(-205,144)
(175,110)(115,106)(45,112)(-25,108)(-95,112)(-160,104)(-235,110)
(220,78)(145,82)(70,76)(-10,80)(-80,78)(-150,84)(-220,80)
(175,50)(100,54)(30,48)(-90,50)(-210,52)(235,20)(145,24)(80,18)(-40,28)(-190,-4)(-240,16)
(200,-6)(130,-10)(65,-4)(-70,-12)(-185,-32)(-240,-20)(165,-38)(80,-34)(-20,-40)(-65,-44)(-110,-64)(-210,-38)
(210,-64)(145,-68)(80,-62)(25,-70)(-55,-66)(-140,-62)(-225,-70)
(215,-96)(75,-100)(35,-94)(-35,-96)(-130,-98)(-195,-92)
(230,-120)(50,-128)(-15,-130)(-85,-124)(-155,-134)(-240,-126)
(210,-190)(140,-158)(65,-160)(-20,-156)(-95,-152)(-170,-160)(-235,-158)
(160,-188)(95,-192)(20,-196)(-50,-188)(-120,-194)(-200,-190)
(205,-222)(125,-218)(55,-226)(-15,-220)(-90,-224)(-160,-216)(-235,-228)
(175,-248)(95,-246)(25,-248)(-45,-246)(-115,-248)(-185,-246)};
\addplot[cont] coordinates {(131,201)(117,213)(108,203)(112,192)(131,201)};
\addplot[cont] coordinates {(47,-12)(42,16)(22,32)(0,35)(-22,27)(-36,5)(-33,-28)(-22,-46)(0,-51)(22,-45)(39,-28)(47,-12)};
\addplot[cont] coordinates {(39,-9)(33,13)(17,21)(-6,21)(-22,13)(-28,-6)(-22,-28)(-11,-39)(6,-42)(22,-34)(36,-23)(39,-9)};
\addplot[cont] coordinates {(28,-6)(25,8)(11,13)(-6,13)(-14,2)(-14,-17)(-6,-28)(8,-28)(22,-23)(28,-6)};
\addplot[cont] coordinates {(11,-6)(7,-1)(0,-3)(1,-12)(8,-13)(11,-6)};
\addplot[cont] coordinates {(-108,5)(-111,21)(-122,32)(-139,32)(-156,24)(-167,5)(-169,-20)(-161,-39)(-144,-46)(-128,-39)(-117,-23)(-108,5)};
\addplot[cont] coordinates {(-125,5)(-136,13)(-149,8)(-158,-12)(-156,-25)(-142,-31)(-131,-23)(-125,-9)(-125,5)};
\addplot[cont] coordinates {(207,-159)(200,-138)(183,-124)(156,-110)(133,-94)(117,-86)(100,-86)(93,-105)(97,-138)(114,-148)(144,-152)(172,-166)(189,-163)(207,-159)};
\addplot[cont] coordinates {(131,-115)(122,-113)(123,-120)(131,-115)};
\addplot[src] coordinates {(0,0)};
\end{axis}

\begin{axis}[field, at={(235pt,20pt)}, title={23026+5948}]
\addplot[dots] coordinates {(230,240)(150,236)(80,246)(10,234)(-60,242)(-130,238)(-210,244)
(200,212)(130,206)(60,218)(-10,210)(-80,214)(-155,204)(-230,216)
(240,184)(165,190)(95,180)(25,186)(-45,192)(-115,182)(-190,188)
(190,156)(120,150)(50,162)(-20,154)(-95,148)(-165,160)(-245,152)
(225,126)(155,132)(85,120)(15,128)(-55,136)(-125,124)(-205,130)
(180,98)(110,104)(40,92)(-30,100)(-100,94)(-175,106)(-240,96)
(230,70)(160,64)(95,76)(20,66)(-50,72)(-130,62)(-200,74)
(195,40)(125,46)(70,34)(-50,42)(-120,36)(-190,48)
(160,14)(100,8)(-45,16)(-110,10)(-180,20)(-235,6)
(200,-16)(130,-10)(70,-22)(-60,-14)(-130,-20)(-210,-8)
(240,-48)(150,-40)(100,-54)(-50,-44)(-120,-50)(-185,-38)
(200,-76)(130,-82)(90,-70)(-40,-80)(-100,-74)(-170,-86)(-235,-70)
(230,-108)(160,-102)(100,-114)(-45,-106)(-110,-112)(-175,-100)
(190,-140)(120,-134)(50,-146)(-20,-140)(-80,-150)(-150,-136)(-220,-144)
(240,-172)(165,-166)(95,-178)(20,-170)(-60,-176)(-125,-164)(-200,-178)
(205,-204)(130,-198)(60,-210)(-10,-202)(-90,-208)(-160,-196)(-235,-210)
(170,-234)(100,-228)(30,-240)(-40,-232)(-110,-238)(-190,-230)};
\addplot[dots] coordinates {(195,226)(115,222)(45,228)(-25,224)(-95,228)(-170,224)(-235,230)
(165,196)(95,200)(25,194)(-45,198)(-120,196)(-190,200)
(205,170)(130,174)(60,168)(-10,172)(-80,168)(-150,174)(-220,170)
(225,140)(155,144)(85,138)(15,142)(-60,140)(-130,146)(-205,140)
(200,112)(130,116)(65,110)(-5,114)(-70,110)(-145,112)(-210,118)
(160,84)(90,80)(25,86)(-45,82)(-115,86)(-190,82)
(215,54)(145,58)(80,52)(-80,56)(-155,50)(-225,58)
(230,24)(175,28)(120,22)(60,26)(-75,28)(-145,24)(-215,30)
(235,-2)(110,-6)(60,-10)(-80,-2)(-150,-6)(-240,-20)
(175,-30)(110,-34)(-40,-26)(-95,-30)(-160,-34)(-235,-40)
(230,-62)(170,-58)(120,-66)(-60,-60)(-150,-64)(-210,-56)
(160,-92)(110,-96)(-65,-90)(-130,-94)(-200,-88)(-240,-96)
(200,-124)(130,-120)(70,-128)(-30,-124)(-90,-130)(-160,-118)(-240,-124)
(230,-156)(150,-152)(80,-158)(10,-154)(-45,-160)(-110,-150)(-185,-158)
(180,-188)(115,-184)(45,-190)(-25,-186)(-100,-190)(-175,-184)(-240,-192)
(225,-220)(150,-216)(80,-222)(20,-218)(-60,-220)(-130,-216)(-210,-222)
(200,-246)(130,-248)(60,-246)(-5,-248)(-80,-246)(-150,-248)(-220,-246)};
\addplot[cont] coordinates {(75,-69)(61,-45)(56,-12)(50,13)(31,28)(3,31)(-19,27)(-31,10)(-31,-23)(-19,-50)(-19,-94)(-14,-116)(0,-124)(14,-119)(33,-108)(50,-97)(67,-83)(75,-69)};
\addplot[cont] coordinates {(42,-17)(39,10)(25,23)(3,24)(-14,16)(-19,-6)(-14,-45)(-14,-77)(-11,-105)(3,-110)(22,-105)(35,-91)(39,-61)(40,-39)(42,-17)};
\addplot[cont] coordinates {(33,-6)(28,13)(14,19)(-3,18)(-11,5)(-11,-28)(-3,-50)(0,-77)(6,-94)(14,-83)(22,-50)(28,-28)(32,-17)(33,-6)};
\addplot[cont] coordinates {(24,-12)(21,5)(8,10)(-6,8)(-8,-9)(-3,-23)(6,-34)(14,-28)(24,-12)};
\addplot[cont] coordinates {(262,40)(248,38)(239,30)(231,16)(231,2)(235,-3)(244,5)(248,2)(262,2)};
\addplot[cont] coordinates {(178,-25)(172,-20)(158,-17)(152,-34)(156,-50)(160,-53)(172,-42)(176,-34)(178,-25)};
\addplot[cont] coordinates {(-44,-204)(-53,-207)(-50,-212)(-44,-204)};
\addplot[src] coordinates {(0,0)};
\end{axis}

\begin{axis}[field, at={(434pt,20pt)}, title={23033+5951}]
\addplot[dots] coordinates {(235,242)(160,238)(90,246)(20,232)(-50,240)(-125,236)(-195,244)
(205,214)(130,208)(60,220)(-20,212)(-90,218)(-160,206)(-230,216)
(240,186)(170,190)(100,180)(30,188)(-55,184)(-130,192)(-200,178)
(190,158)(120,164)(55,152)(-15,160)(-85,150)(-150,166)(-225,156)
(225,128)(150,134)(80,122)(15,130)(-60,126)(-120,138)(-190,124)
(180,100)(110,94)(40,104)(-25,96)(-95,106)(-175,98)(-240,110)
(235,70)(160,76)(95,64)(20,60)(-55,72)(-110,80)(-200,66)
(200,42)(135,36)(70,48)(-40,40)(-90,34)(-190,50)(-245,44)
(170,14)(105,20)(55,8)(-30,12)(-75,18)(-145,6)(-210,14)
(225,-16)(150,-10)(85,-22)(20,-14)(-55,-18)(-120,-8)(-185,-24)
(190,-46)(120,-40)(55,-52)(-10,-44)(-80,-50)(-150,-38)(-230,-54)
(240,-78)(165,-72)(95,-84)(30,-76)(-45,-82)(-110,-70)(-195,-86)
(200,-108)(130,-114)(60,-102)(-10,-110)(-80,-116)(-150,-104)(-225,-112)
(170,-140)(100,-134)(35,-146)(-35,-138)(-105,-144)(-180,-132)(-240,-148)
(230,-172)(155,-166)(80,-178)(10,-170)(-65,-176)(-135,-164)(-205,-180)
(195,-202)(125,-208)(50,-196)(-20,-204)(-90,-210)(-165,-198)(-235,-206)
(225,-236)(150,-230)(75,-242)(0,-234)(-70,-240)(-145,-228)(-215,-244)};
\addplot[dots] coordinates {(200,228)(125,224)(55,230)(-15,226)(-90,230)(-160,224)(-225,230)
(170,198)(95,202)(25,196)(-55,200)(-125,196)(-195,202)
(210,172)(135,176)(65,170)(-25,174)(-95,168)(-165,176)(-240,170)
(225,144)(155,148)(85,142)(20,146)(-50,142)(-120,150)(-190,146)
(190,114)(125,118)(60,112)(-5,116)(-75,112)(-145,120)(-215,118)
(215,86)(140,82)(75,88)(5,84)(-65,88)(-135,84)(-205,90)
(170,56)(105,60)(40,54)(-20,48)(-105,60)(-175,56)(-235,62)
(225,28)(150,24)(85,30)(-50,26)(-125,22)(-195,30)
(195,-2)(130,2)(60,-6)(-45,-2)(-100,4)(-165,-4)(-235,0)
(170,-30)(100,-26)(35,-34)(-30,-30)(-100,-34)(-170,-30)(-240,-22)
(215,-62)(140,-58)(70,-64)(5,-60)(-65,-66)(-130,-58)(-205,-64)
(175,-94)(105,-90)(40,-96)(-25,-92)(-95,-98)(-165,-92)(-240,-96)
(230,-124)(160,-128)(85,-122)(20,-126)(-50,-124)(-120,-130)(-190,-120)
(200,-156)(130,-152)(60,-158)(-10,-154)(-85,-160)(-155,-150)(-225,-160)
(160,-188)(90,-184)(20,-190)(-50,-186)(-115,-192)(-185,-184)(-240,-190)
(225,-220)(155,-214)(85,-224)(15,-218)(-55,-222)(-125,-216)(-200,-222)
(185,-248)(110,-246)(40,-248)(-30,-246)(-105,-248)(-175,-246)};
\addplot[cont] coordinates {(13,262)(13,249)(12,230)(-7,216)(-14,236)(-13,249)(-13,262)};
\addplot[cont] coordinates {(45,21)(40,35)(26,43)(7,45)(-7,35)(-11,16)(-7,2)(1,-1)(15,5)(31,8)(43,13)(45,21)};
\addplot[cont] coordinates {(-126,65)(-131,79)(-143,85)(-156,79)(-167,65)(-162,52)(-148,45)(-137,46)(-129,54)(-126,65)};
\addplot[cont] coordinates {(-262,-215)(-250,-218)(-246,-230)(-248,-252)};
\addplot[src] coordinates {(0,0)};
\end{axis}
\end{tikzpicture}
\end{document}
